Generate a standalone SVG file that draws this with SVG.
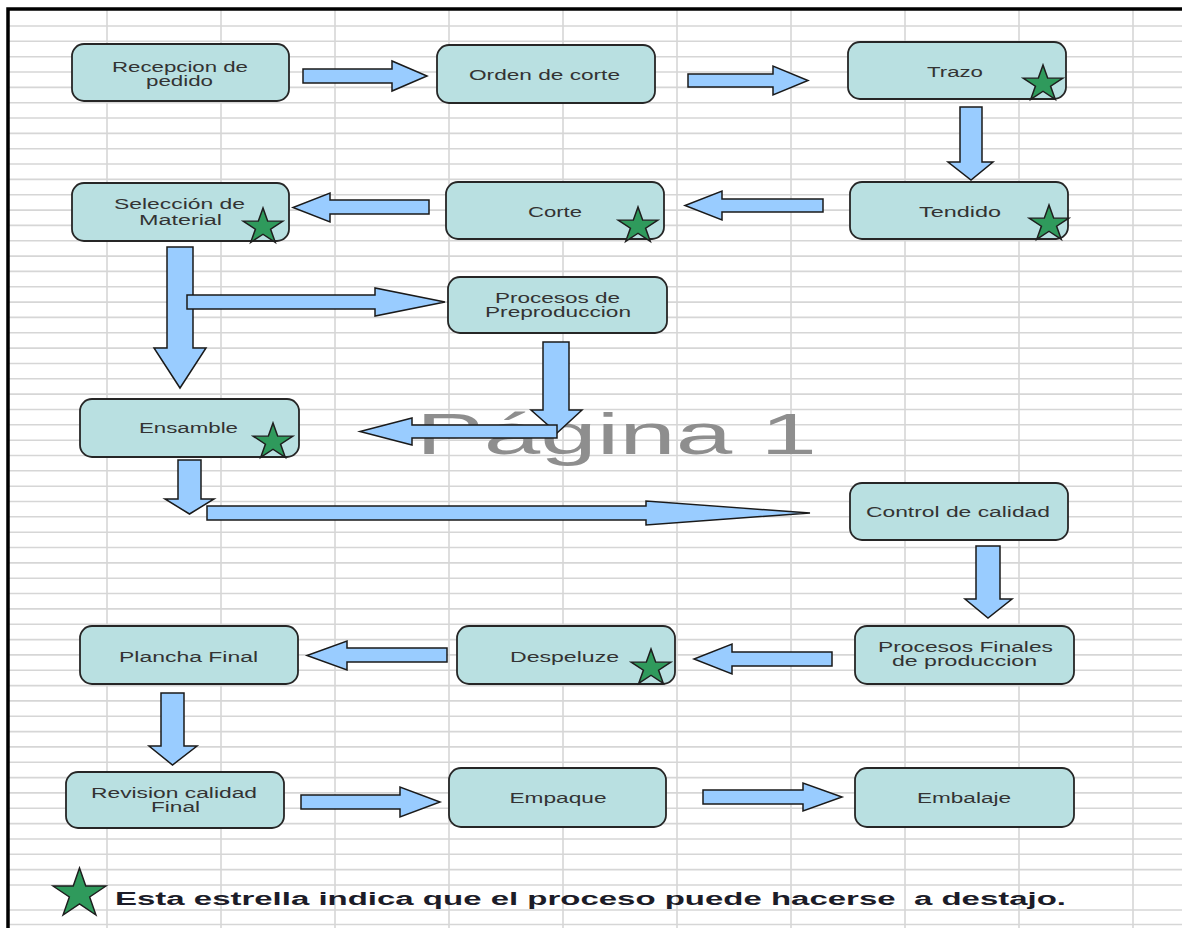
<svg xmlns="http://www.w3.org/2000/svg" width="1182" height="928" viewBox="0 0 1182 928">
  <style>
    .grid { stroke: #d6d6d6; stroke-width: 1.6; fill: none; }
    .frame { stroke: #000; stroke-width: 3.5; fill: none; }
    .box { fill: #b9e0e1; stroke: #262626; stroke-width: 1.8; }
    .lbl { font-family: "Liberation Sans", Arial, sans-serif; font-size: 14px; fill: #333; text-anchor: middle; }
    .arrow { fill: #99ccff; stroke: #1a1a1a; stroke-width: 1.5; stroke-linejoin: miter; }
    .star { fill: #2f9a5c; stroke: #1e1e1e; stroke-width: 1.4; }
    .legend { font-family: "Liberation Sans", Arial, sans-serif; font-size: 18px; font-weight: bold; fill: #1c1c28; white-space: pre; }
    .mark { font-family: "Liberation Sans", Arial, sans-serif; font-size: 58px; fill: #8e8e8e; }
  </style>
  <defs>
    <path id="star" d="M0,-19 L4.27,-5.87 L18.07,-5.87 L6.9,2.24 L11.17,15.37 L0,7.26 L-11.17,15.37 L-6.9,2.24 L-18.07,-5.87 L-4.27,-5.87 Z"/>
  </defs>

  <rect width="1182" height="928" fill="#fff"/>

  <!-- spreadsheet grid -->
  <g id="grid">
    <path class="grid" d="M9 26H1182M9 41.3H1182M9 56.7H1182M9 72H1182M9 87.4H1182M9 102.7H1182M9 118H1182M9 133.4H1182M9 148.7H1182M9 164H1182M9 179.4H1182M9 194.7H1182M9 210.1H1182M9 225.4H1182M9 240.7H1182M9 256.1H1182M9 271.4H1182M9 286.8H1182M9 302.1H1182M9 317.4H1182M9 332.8H1182M9 348.1H1182M9 363.5H1182M9 378.8H1182M9 394.1H1182M9 409.5H1182M9 424.8H1182M9 440.2H1182M9 455.5H1182M9 470.8H1182M9 486.2H1182M9 501.5H1182M9 516.8H1182M9 532.2H1182M9 547.5H1182M9 562.9H1182M9 578.2H1182M9 593.5H1182M9 608.9H1182M9 624.2H1182M9 639.6H1182M9 654.9H1182M9 670.2H1182M9 685.6H1182M9 700.9H1182M9 716.3H1182M9 731.6H1182M9 746.9H1182M9 762.3H1182M9 777.6H1182M9 792.9H1182M9 808.3H1182M9 823.6H1182M9 839H1182M9 854.3H1182M9 869.6H1182M9 885H1182M9 910H1182M9 924.5H1182"/>
    <path class="grid" d="M107 10V928M221 10V928M335 10V928M449 10V928M563 10V928M677 10V928M791 10V928M905 10V928M1019 10V928M1133 10V928"/>
  </g>

  <!-- page frame -->
  <path class="frame" d="M1182 9H8V928"/>

  <!-- page watermark -->
  <text class="mark" x="416" y="454" textLength="401" lengthAdjust="spacingAndGlyphs">Página 1</text>

  <!-- block arrows -->
  <g id="connectors">
    <polygon class="arrow" points="303,69 392,69 392,61 427,76 392,91 392,83 303,83"/>
    <polygon class="arrow" points="688,74 773,74 773,66 808,80.5 773,95 773,87 688,87"/>
    <polygon class="arrow" points="960,107 982,107 982,162 993,162 971,180 948,162 960,162"/>
    <polygon class="arrow" points="823,199 722,199 722,191 685,205.5 722,220 722,212 823,212"/>
    <polygon class="arrow" points="429,200 330,200 330,193 293,207.5 330,222 330,214 429,214"/>
    <polygon class="arrow" points="167,247 193,247 193,348 206,348 180,388 154,348 167,348"/>
    <polygon class="arrow" points="187,295 375,295 375,288 445,302 375,316 375,309 187,309"/>
    <polygon class="arrow" points="543,342 569,342 569,410 582,410 557,433 531,410 543,410"/>
    <polygon class="arrow" points="557,425 412,425 412,418 360,431.5 412,445 412,438 557,438"/>
    <polygon class="arrow" points="178,460 201,460 201,499 214,499 189.5,514 165,499 178,499"/>
    <polygon class="arrow" points="207,506 646,506 646,501 810,513 646,525 646,520 207,520"/>
    <polygon class="arrow" points="976,546 1000,546 1000,599 1012,599 988,618 965,599 976,599"/>
    <polygon class="arrow" points="832,652 732,652 732,644 694,659 732,674 732,666 832,666"/>
    <polygon class="arrow" points="447,648 347,648 347,641 307,655.5 347,670 347,662 447,662"/>
    <polygon class="arrow" points="161,693 184,693 184,746 197,746 172.5,765 149,746 161,746"/>
    <polygon class="arrow" points="301,795 400,795 400,787 440,802 400,817 400,809 301,809"/>
    <polygon class="arrow" points="703,790 803,790 803,783 842,797 803,811 803,804 703,804"/>
  </g>

  <!-- process steps -->
  <g id="recepcion">
    <rect class="box" x="72" y="44" width="217" height="57" rx="12"/>
    <text class="lbl" x="180" y="72" textLength="136" lengthAdjust="spacingAndGlyphs">Recepcion de</text>
    <text class="lbl" x="179.5" y="86" textLength="67" lengthAdjust="spacingAndGlyphs">pedido</text>
  </g>
  <g id="orden">
    <rect class="box" x="437" y="45" width="218" height="58" rx="12"/>
    <text class="lbl" x="544.5" y="80" textLength="151" lengthAdjust="spacingAndGlyphs">Orden de corte</text>
  </g>
  <g id="trazo">
    <rect class="box" x="848" y="42" width="218" height="57" rx="12"/>
    <text class="lbl" x="955" y="77" textLength="56" lengthAdjust="spacingAndGlyphs">Trazo</text>
    <use href="#star" class="star" transform="translate(1043,84) scale(1.1,1)"/>
  </g>
  <g id="tendido">
    <rect class="box" x="850" y="182" width="218" height="57" rx="12"/>
    <text class="lbl" x="960" y="217" textLength="82" lengthAdjust="spacingAndGlyphs">Tendido</text>
    <use href="#star" class="star" transform="translate(1049,224) scale(1.1,1)"/>
  </g>
  <g id="corte">
    <rect class="box" x="446" y="182" width="218" height="57" rx="12"/>
    <text class="lbl" x="555" y="217" textLength="54" lengthAdjust="spacingAndGlyphs">Corte</text>
    <use href="#star" class="star" transform="translate(638,226) scale(1.1,1)"/>
  </g>
  <g id="seleccion">
    <rect class="box" x="72" y="183" width="217" height="58" rx="12"/>
    <text class="lbl" x="179.5" y="209" textLength="131" lengthAdjust="spacingAndGlyphs">Selección de</text>
    <text class="lbl" x="180.5" y="225" textLength="83" lengthAdjust="spacingAndGlyphs">Material</text>
    <use href="#star" class="star" transform="translate(263,227) scale(1.1,1)"/>
  </g>
  <g id="preproduccion">
    <rect class="box" x="448" y="277" width="219" height="56" rx="12"/>
    <text class="lbl" x="557.5" y="303" textLength="125" lengthAdjust="spacingAndGlyphs">Procesos de</text>
    <text class="lbl" x="558" y="317" textLength="146" lengthAdjust="spacingAndGlyphs">Preproduccion</text>
  </g>
  <g id="ensamble">
    <rect class="box" x="80" y="399" width="219" height="58" rx="12"/>
    <text class="lbl" x="188.5" y="433" textLength="99" lengthAdjust="spacingAndGlyphs">Ensamble</text>
    <use href="#star" class="star" transform="translate(273,442) scale(1.1,1)"/>
  </g>
  <g id="control">
    <rect class="box" x="850" y="483" width="218" height="57" rx="12"/>
    <text class="lbl" x="958" y="517" textLength="184" lengthAdjust="spacingAndGlyphs">Control de calidad</text>
  </g>
  <g id="finales">
    <rect class="box" x="855" y="626" width="219" height="58" rx="12"/>
    <text class="lbl" x="965.5" y="652" textLength="175" lengthAdjust="spacingAndGlyphs">Procesos Finales</text>
    <text class="lbl" x="964.5" y="666" textLength="145" lengthAdjust="spacingAndGlyphs">de produccion</text>
  </g>
  <g id="despeluze">
    <rect class="box" x="457" y="626" width="218" height="58" rx="12"/>
    <text class="lbl" x="564.5" y="662" textLength="109" lengthAdjust="spacingAndGlyphs">Despeluze</text>
    <use href="#star" class="star" transform="translate(651,668) scale(1.1,1)"/>
  </g>
  <g id="plancha">
    <rect class="box" x="80" y="626" width="218" height="58" rx="12"/>
    <text class="lbl" x="188.5" y="662" textLength="139" lengthAdjust="spacingAndGlyphs">Plancha Final</text>
  </g>
  <g id="revision">
    <rect class="box" x="66" y="772" width="218" height="56" rx="12"/>
    <text class="lbl" x="174" y="798" textLength="166" lengthAdjust="spacingAndGlyphs">Revision calidad</text>
    <text class="lbl" x="175.5" y="812" textLength="49" lengthAdjust="spacingAndGlyphs">Final</text>
  </g>
  <g id="empaque">
    <rect class="box" x="449" y="768" width="217" height="59" rx="12"/>
    <text class="lbl" x="558" y="803" textLength="97" lengthAdjust="spacingAndGlyphs">Empaque</text>
  </g>
  <g id="embalaje">
    <rect class="box" x="855" y="768" width="219" height="59" rx="12"/>
    <text class="lbl" x="964" y="803" textLength="94" lengthAdjust="spacingAndGlyphs">Embalaje</text>
  </g>

  <!-- legend -->
  <g id="legend">
    <use href="#star" class="star" transform="translate(79.5,894) scale(1.47,1.37)" style="stroke-width:1"/>
    <text class="legend" x="115" y="905" textLength="951" lengthAdjust="spacingAndGlyphs">Esta estrella indica que el proceso puede hacerse  a destajo.</text>
  </g>
</svg>
